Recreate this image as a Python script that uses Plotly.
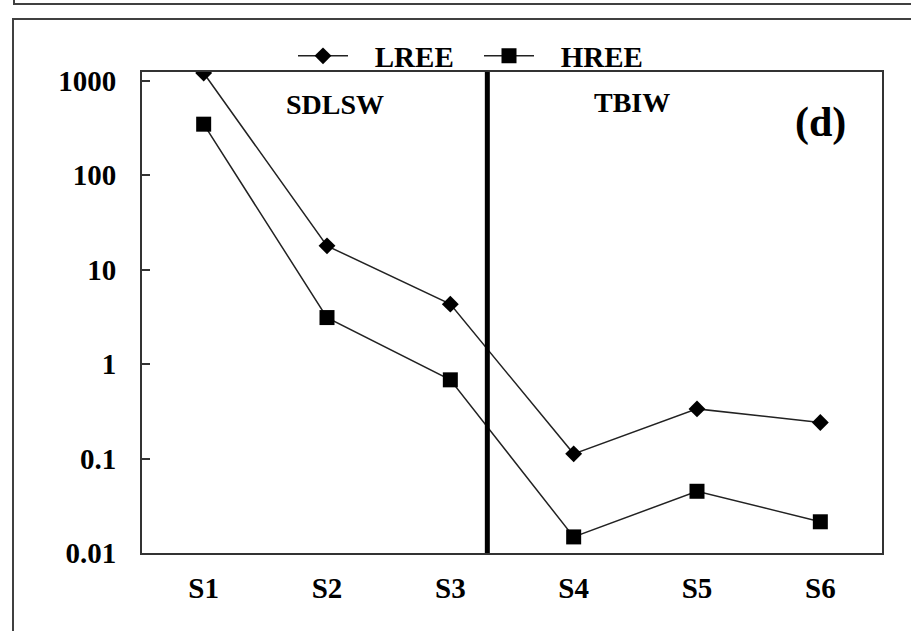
import plotly.graph_objects as go

# Sample sites and REE totals (log scale)
sites = ["S1", "S2", "S3", "S4", "S5", "S6"]
lree = [1200, 17.8, 4.3, 0.112, 0.335, 0.24]
hree = [345, 3.1, 0.68, 0.0148, 0.045, 0.0214]

y_tick_vals = [1000, 100, 10, 1, 0.1, 0.01]
y_tick_text = ["1000", "100", "10", "1", "0.1", "0.01"]

FONT = "Liberation Serif"
INK = "#333333"
PAD = "&nbsp;" * 3

W, H = 911, 631
L, R, T, B = 142, 29, 72, 78
PW, PH = W - L - R, H - T - B


def px_x(px):
    return (px - L) / PW


def px_y(py):
    return (H - B - py) / PH


fig = go.Figure()
fig.add_trace(go.Scatter(
    x=sites, y=lree, name=PAD + "LREE", mode="lines+markers",
    line=dict(color="#222222", width=1.5),
    marker=dict(symbol="diamond", size=13, color="black"),
))
fig.add_trace(go.Scatter(
    x=sites, y=hree, name=PAD + "HREE", mode="lines+markers",
    line=dict(color="#222222", width=1.5),
    marker=dict(symbol="square", size=15, color="black"),
))

# boundary between the two water groups
fig.add_shape(type="line", xref="x", yref="paper", x0=2.3, x1=2.3, y0=0, y1=1,
              line=dict(color="black", width=5))

# panel frames
fig.add_shape(type="rect", xref="paper", yref="paper",
              x0=px_x(14), x1=px_x(960), y0=px_y(4), y1=px_y(-50),
              line=dict(color="#404040", width=2))
fig.add_shape(type="rect", xref="paper", yref="paper",
              x0=px_x(13), x1=px_x(960), y0=px_y(680), y1=px_y(19),
              line=dict(color="#404040", width=2))

for txt, cx, cy, size in [("SDLSW", 335, 105, 28), ("TBIW", 632, 103, 28), ("(d)", 820, 123, 42)]:
    fig.add_annotation(text=txt, x=px_x(cx), y=px_y(cy), xref="paper", yref="paper",
                       xanchor="center", yanchor="middle", showarrow=False,
                       font=dict(family=FONT, size=size, color="black", weight="bold"))

fig.update_layout(
    width=W, height=H,
    margin=dict(l=L, r=R, t=T, b=B),
    paper_bgcolor="white", plot_bgcolor="white",
    font=dict(family=FONT, color="black"),
    legend=dict(orientation="h", x=px_x(293), y=px_y(56), xanchor="left", yanchor="middle",
                font=dict(family=FONT, size=29, color="black", weight="bold"),
                bgcolor="rgba(0,0,0,0)", itemwidth=50, tracegroupgap=0,
                entrywidth=121, entrywidthmode="pixels"),
    xaxis=dict(range=[-0.5, 5.5], showline=True, mirror=True, linecolor=INK, linewidth=2,
               showgrid=False, zeroline=False, ticks="", ticklabelstandoff=8,
               tickfont=dict(family=FONT, size=29, color="black", weight="bold")),
    yaxis=dict(type="log", range=[-2, 3.09], showline=True, mirror=True, linecolor=INK,
               linewidth=2, showgrid=False, zeroline=False,
               tickvals=y_tick_vals, ticktext=y_tick_text,
               ticks="inside", ticklen=8, tickwidth=2, tickcolor=INK, ticklabelstandoff=18,
               tickfont=dict(family=FONT, size=29, color="black", weight="bold")),
)

fig.write_html("out.html")
